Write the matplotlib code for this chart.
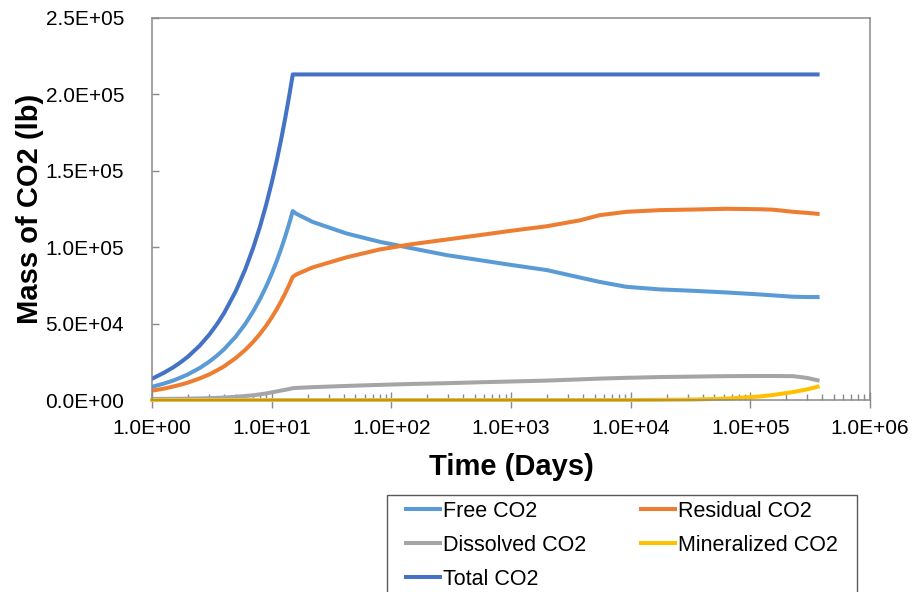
import matplotlib.pyplot as plt
from matplotlib.patches import Rectangle
from matplotlib.ticker import FixedLocator, FuncFormatter, LogLocator, NullFormatter

plt.rcParams['font.family'] = ['Liberation Sans', 'DejaVu Sans']

# time, days
time_days = [1, 1.25, 1.5, 1.75, 2, 2.5, 3, 3.5, 4, 5, 6, 7, 8, 9, 10, 11, 12, 13, 14, 15,
             16, 22, 42, 80, 150, 290, 550, 1000, 2000, 3800, 5500, 9200, 17500,
             33000, 63000, 120000, 155000, 228000, 300000, 365000]

free_co2 = [8600, 10700, 12700, 14800, 16800, 20900, 25000, 29100, 33200, 41400,
            49600, 57900, 66100, 74300, 82500, 90700, 98900, 107100, 115300, 123500,
            121800, 116400, 108900, 103400, 99100, 94700, 91400, 88300, 84900, 80000,
            77200, 74000, 72300, 71400, 70300, 69000, 68400, 67500, 67300, 67300]
residual_co2 = [6100, 7400, 8800, 10100, 11400, 14100, 16700, 19400, 22000, 27400,
                32700, 38000, 43300, 48600, 53900, 59200, 64600, 69900, 75200, 80500,
                82000, 86700, 93200, 98400, 101900, 104900, 107800, 110600, 113600,
                117500, 120800, 123000, 124100, 124500, 125000, 124700, 124400,
                123000, 122300, 121700]
dissolved_co2 = [700, 750, 800, 850, 900, 1050, 1200, 1400, 1600, 2100, 2600, 3100,
                 3700, 4300, 5000, 5600, 6200, 6700, 7200, 7700,
                 7900, 8400, 9200, 9900, 10500, 11000, 11600, 12100, 12700, 13500,
                 14000, 14500, 15000, 15300, 15600, 15700, 15700, 15600, 14400, 12900]
mineralized_co2 = [0, 0, 0, 0, 0, 0, 0, 0, 0, 0, 0, 0, 0, 0, 0, 0, 0, 0, 0, 0,
                   0, 0, 0, 0, 0, 0, 0, 0, 0, 0, 0, 0, 100, 300, 900, 2300, 3300,
                   5200, 7000, 8700]
total_co2 = [13900, 17700, 21300, 24900, 28400, 35500, 42600, 49700, 56800, 71000,
             85200, 99400, 113600, 127800, 142000, 156200, 170400, 184600, 198700,
             212800, 212800, 212800, 212800, 212800, 212800, 212800, 212800, 212800,
             212800, 212800, 212800, 212800, 212800, 212800, 212800, 212800, 212800,
             212800, 212800, 212800]

x_ticks = [1e0, 1e1, 1e2, 1e3, 1e4, 1e5, 1e6]
y_ticks = [0, 5e4, 1e5, 1.5e5, 2e5, 2.5e5]

fig = plt.figure(figsize=(9.17, 5.92), dpi=100)
ax = fig.add_axes([0.1658, 0.3243, 0.7829, 0.6461])

lw = 2.9
l_free, = ax.plot(time_days, free_co2, color='#5B9BD5', lw=lw, label='Free CO2')
l_res, = ax.plot(time_days, residual_co2, color='#ED7D31', lw=lw, label='Residual CO2')
l_dis, = ax.plot(time_days, dissolved_co2, color='#A5A5A5', lw=lw, label='Dissolved CO2')
l_min, = ax.plot(time_days, mineralized_co2, color='#FFC000', lw=lw,
                 label='Mineralized CO2', clip_on=False)
l_tot, = ax.plot(time_days, total_co2, color='#4472C4', lw=lw, label='Total CO2')

ax.set_xscale('log')
ax.set_xlim(1, 1e6)
ax.set_ylim(0, 2.5e5)
ax.xaxis.set_major_locator(FixedLocator(x_ticks))
ax.xaxis.set_minor_locator(LogLocator(base=10, subs=range(2, 10)))
ax.xaxis.set_minor_formatter(NullFormatter())
ax.yaxis.set_major_locator(FixedLocator(y_ticks))
sci = FuncFormatter(lambda v, p: '{:.1E}'.format(v))
ax.xaxis.set_major_formatter(sci)
ax.yaxis.set_major_formatter(sci)

for s in ax.spines.values():
    s.set_color('#898989')
    s.set_linewidth(1.1)
ax.tick_params(axis='both', which='major', width=1.0, color='#898989',
               labelsize=15, labelcolor='black')
ax.tick_params(axis='x', which='major', direction='inout', length=11, pad=8)
ax.tick_params(axis='y', which='major', direction='in', length=5, pad=20)
ax.tick_params(axis='x', which='minor', direction='in', length=4,
               width=1.0, color='#898989')

ax.set_xlabel('Time (Days)', fontsize=21, fontweight='bold', labelpad=11)
ax.set_ylabel('Mass of CO2 (lb)', fontsize=21, fontweight='bold', labelpad=1)

# legend frame runs off the bottom edge, as in the original
fig.add_artist(Rectangle((387 / 917, -0.05), 470 / 917, 1 - 495 / 592 + 0.05,
                         transform=fig.transFigure, fill=False,
                         edgecolor='#5a5a5a', linewidth=1.0))
fig.legend(handles=[l_free, l_dis, l_tot, l_res, l_min], ncol=2,
           loc='upper left', bbox_to_anchor=(406 / 917, 1 - 501 / 592),
           borderaxespad=0, borderpad=0, fontsize=15.5, frameon=False,
           handlelength=1.58, handletextpad=0.15, labelspacing=0.6,
           columnspacing=2.54)

fig.savefig('out.png', dpi=100)
